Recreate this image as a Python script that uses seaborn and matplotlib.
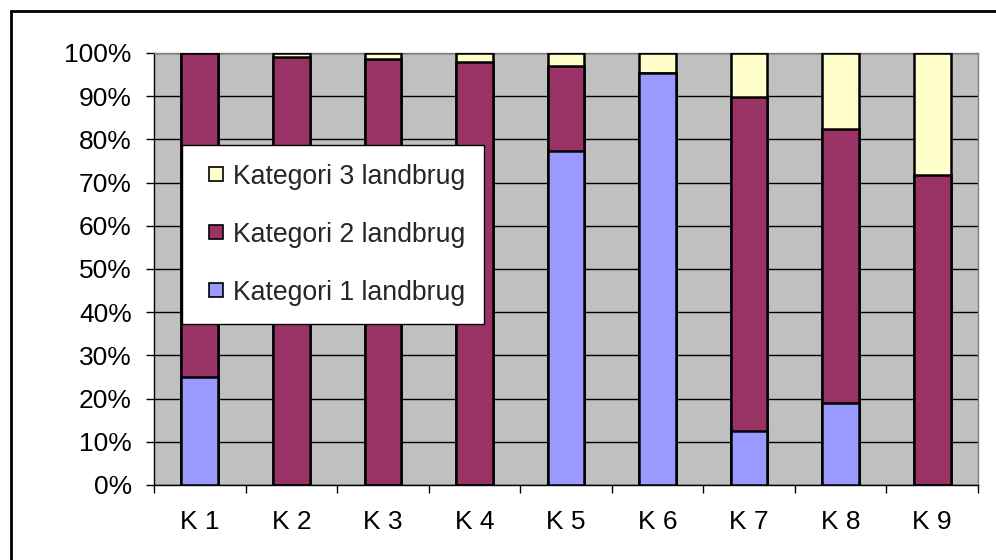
import numpy as np
import pandas as pd
import matplotlib
matplotlib.use("Agg")
import matplotlib.pyplot as plt
import seaborn as sns
from matplotlib.lines import Line2D
from matplotlib.patches import Rectangle
from matplotlib.ticker import FixedLocator, PercentFormatter

# Share of holdings per category (percent)
categories = ["K 1", "K 2", "K 3", "K 4", "K 5", "K 6", "K 7", "K 8", "K 9"]
kategori1 = [25.0, 0.0, 0.0, 0.0, 77.3, 95.3, 12.4, 18.9, 0.0]
kategori2 = [75.0, 99.0, 98.5, 98.0, 19.8, 0.0, 77.3, 63.4, 71.8]
kategori3 = [0.0, 1.0, 1.5, 2.0, 2.9, 4.7, 10.3, 17.7, 28.2]
series_labels = ["Kategori 1 landbrug", "Kategori 2 landbrug", "Kategori 3 landbrug"]
series_colors = ["#9999FF", "#993366", "#FFFFCC"]

sns.set_theme(style="white")
plt.rcParams["font.family"] = ["Liberation Sans", "DejaVu Sans"]

df = pd.DataFrame({"kategori": categories,
                   "k1": kategori1, "k2": kategori2, "k3": kategori3})
df["top1"] = df["k1"]
df["top2"] = df["k1"] + df["k2"]
df["top3"] = df["k1"] + df["k2"] + df["k3"]

fig = plt.figure(figsize=(9.96, 5.6), dpi=100)
ax = fig.add_axes([154 / 996, 1 - 485 / 560, (978 - 154) / 996, (485 - 53) / 560])
ax.set_facecolor("#C0C0C0")

# Stacked bars: draw cumulative totals from the top layer down
for col, color in zip(["top3", "top2", "top1"], series_colors[::-1]):
    sns.barplot(data=df, x="kategori", y=col, color=color, width=0.4,
                edgecolor="black", linewidth=1.8, saturation=1, ax=ax, zorder=3)

ax.set_xlim(-0.5, len(categories) - 0.5)
ax.set_ylim(0, 100)
ax.set_xlabel("")
ax.set_ylabel("")

ax.yaxis.set_major_locator(FixedLocator(np.arange(0, 101, 10)))
ax.yaxis.set_major_formatter(PercentFormatter(decimals=0))
ax.grid(axis="y", color="black", linewidth=1.0)
ax.grid(axis="x", visible=False)
ax.set_axisbelow(True)

ax.xaxis.set_minor_locator(FixedLocator(np.arange(-0.5, len(categories), 1.0)))
ax.tick_params(axis="x", which="major", length=0, pad=18, labelsize=19, colors="black")
ax.tick_params(axis="x", which="minor", bottom=True, length=6, width=1, color="black")
ax.tick_params(axis="y", which="major", left=True, length=6, width=1, pad=10,
               labelsize=19, colors="black")

for side in ["left", "bottom"]:
    ax.spines[side].set_color("black")
    ax.spines[side].set_linewidth(1.0)
for side in ["top", "right"]:
    ax.spines[side].set_color("#808080")
    ax.spines[side].set_linewidth(1.0)

handles = [Line2D([], [], linestyle="none", marker="s", markersize=10.5,
                  markerfacecolor=c, markeredgecolor="black", markeredgewidth=1.2)
           for c in series_colors[::-1]]
leg = ax.legend(handles, series_labels[::-1], loc="upper left",
                bbox_to_anchor=(182 / 996, 1 - 145 / 560), bbox_transform=fig.transFigure,
                fontsize=19.2, frameon=True, fancybox=False, shadow=False,
                borderpad=0.7, labelspacing=1.2, handlelength=1.15, handletextpad=0.05,
                borderaxespad=0)
leg.get_frame().set_edgecolor("black")
leg.get_frame().set_linewidth(1.0)
leg.get_frame().set_facecolor("white")
leg.get_frame().set_alpha(1)
leg.set_zorder(5)

# Outer chart border
fig.patches.append(Rectangle((11 / 996, -0.1), 1.2, 1 - 11 / 560 + 0.1,
                             transform=fig.transFigure, fill=False,
                             edgecolor="black", linewidth=2, zorder=10))

fig.savefig("out.png", dpi=100)
